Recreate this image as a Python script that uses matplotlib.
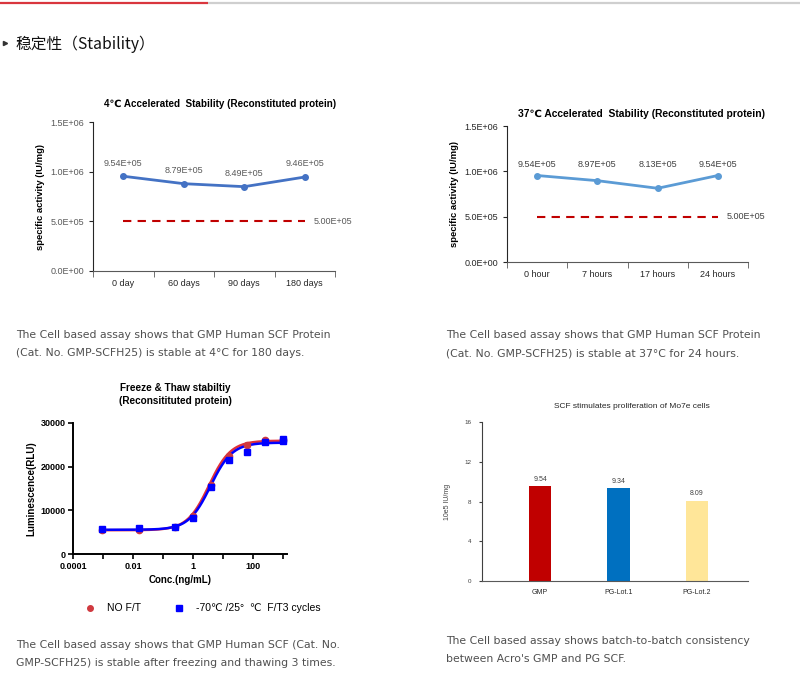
import numpy as np
import matplotlib
matplotlib.use('Agg')
import matplotlib.pyplot as plt
from matplotlib.ticker import FixedLocator, FuncFormatter, NullFormatter

plt.rcParams['font.family'] = ['Liberation Sans', 'DejaVu Sans']

# --- data ---
days_labels = ['0 day', '60 days', '90 days', '180 days']
act_4c = [9.54e5, 8.79e5, 8.49e5, 9.46e5]

hours_labels = ['0 hour', '7 hours', '17 hours', '24 hours']
act_37c = [9.54e5, 8.97e5, 8.13e5, 9.54e5]

spec_limit = 5.0e5

conc = [0.000954, 0.0153, 0.244, 0.977, 3.91, 15.6, 62.5, 250, 1000]
rlu_no_ft = [5600, 5450, 6100, 8600, 15800, 22400, 24900, 26100, 26050]
conc_ft = [0.000954, 0.0153, 0.244, 0.977, 3.91, 15.6, 62.5, 250, 1000, 1000]
rlu_ft = [5700, 5900, 6080, 8200, 15400, 21500, 23400, 25700, 26400, 25900]
# 4PL fit parameters (bottom, top, EC50, hill)
fit_no_ft = (5450, 25950, 3.4, 1.2)
fit_ft = (5550, 25500, 3.8, 1.2)

lots = ['GMP', 'PG-Lot.1', 'PG-Lot.2']
lot_activity = [9.54, 9.34, 8.09]
lot_colors = ['#C00000', '#0070C0', '#FFE699']

W, H = 800, 685
fig = plt.figure(figsize=(W / 100, H / 100), dpi=100)

bg = fig.add_axes([0, 0, 1, 1])
bg.set_xlim(0, W)
bg.set_ylim(H, 0)
bg.axis('off')


def px_axes(l, t, r, b):
    return fig.add_axes([l / W, 1 - b / H, (r - l) / W, (b - t) / H])


# header
bg.plot([0, 208], [3, 3], color='#D9363E', lw=1.6, solid_capstyle='butt')
bg.plot([208, 800], [3, 3], color='#CFCFCF', lw=1.6, solid_capstyle='butt')
bg.plot([5], [43], marker='>', ms=3, color='#333333')
bg.text(15, 44, '稳定性（Stability）', fontsize=11.3, va='center', ha='left',
        family=['Noto Sans CJK SC', 'DejaVu Sans'], color='#111111')

cap_kw = dict(fontsize=7.85, color='#505050', family='DejaVu Sans', va='center', ha='left')
bg.text(16, 335, 'The Cell based assay shows that GMP Human SCF Protein', **cap_kw)
bg.text(16, 353, '(Cat. No. GMP-SCFH25) is stable at 4°C for 180 days.', **cap_kw)
bg.text(446, 335, 'The Cell based assay shows that GMP Human SCF Protein', **cap_kw)
bg.text(446, 353, '(Cat. No. GMP-SCFH25) is stable at 37°C for 24 hours.', **cap_kw)
bg.text(16, 645, 'The Cell based assay shows that GMP Human SCF (Cat. No.', **cap_kw)
bg.text(16, 663, 'GMP-SCFH25) is stable after freezing and thawing 3 times.', **cap_kw)
bg.text(446, 641, 'The Cell based assay shows batch-to-batch consistency', **cap_kw)
bg.text(446, 659, "between Acro's GMP and PG SCF.", **cap_kw)


def stability_panel(ax, labels, values, line_color, tick_color, label_y=None):
    x = np.arange(len(labels))
    ax.plot(x, values, color=line_color, lw=2, marker='o', ms=4)
    ax.plot([x[0], x[-1]], [spec_limit, spec_limit], color='#C00000', lw=1.5,
            dashes=(4, 3))
    for xi, v in zip(x, values):
        if label_y is None:
            ax.annotate('%.2E' % v, (xi, v), xytext=(0, 9.5), textcoords='offset points',
                        ha='center', va='center', fontsize=6.5, color='#595959')
        else:
            ax.text(xi, label_y, '%.2E' % v, ha='center', va='center',
                    fontsize=6.5, color='#404040')
    ax.text(x[-1] + 0.14, spec_limit, '%.2E' % spec_limit, ha='left', va='center',
            fontsize=6.5, color='#595959' if label_y is None else '#404040')
    ax.set_xlim(-0.5, len(labels) - 0.5)
    ax.set_ylim(0, 1.5e6)
    ax.set_yticks([0, 5e5, 1e6, 1.5e6])
    ax.yaxis.set_major_formatter(FuncFormatter(lambda v, p: '%.1E' % v))
    ax.set_xticks(x)
    ax.set_xticklabels(labels)
    ax.xaxis.set_minor_locator(FixedLocator(np.arange(-0.5, len(labels), 1)))
    ax.tick_params(axis='x', which='major', length=0, pad=6, labelsize=6.5, labelcolor='#262626')
    ax.tick_params(axis='x', which='minor', length=4, color='#595959')
    ax.tick_params(axis='y', length=3, labelsize=6.5, labelcolor=tick_color, color='#262626')
    for s in ['top', 'right']:
        ax.spines[s].set_visible(False)
    ax.spines['left'].set_color('#262626')
    ax.spines['bottom'].set_color('#595959')
    ax.set_ylabel('specific activity (IU/mg)', fontsize=6.8, fontweight='bold', labelpad=4)


# panel 1: 4C
ax1 = px_axes(93, 122, 335, 271)
stability_panel(ax1, days_labels, act_4c, '#4472C4', '#595959')
bg.text(220, 104, '4℃ Accelerated  Stability (Reconstituted protein)', fontsize=7.1,
        fontweight='bold', ha='center', va='center')

# panel 2: 37C
ax2 = px_axes(507, 126, 748, 262)
stability_panel(ax2, hours_labels, act_37c, '#5B9BD5', '#262626', label_y=1.08e6)
bg.text(641, 114, '37℃ Accelerated  Stability (Reconstituted protein)', fontsize=7.4,
        fontweight='bold', ha='center', va='center')

# panel 3: freeze / thaw
ax3 = px_axes(73, 423, 287, 554)
xs = np.logspace(np.log10(conc[0]), np.log10(conc[-1]), 300)
for (bot, top, ec50, hill), col in [(fit_no_ft, '#E0303A'), (fit_ft, '#0000FF')]:
    ax3.plot(xs, bot + (top - bot) / (1 + (ec50 / xs) ** hill), color=col, lw=1.8)
ax3.plot(conc, rlu_no_ft, 'o', color='#D0393F', ms=4.5, zorder=3)
ax3.plot(conc_ft, rlu_ft, 's', color='#0000FF', ms=4.5, zorder=4)
ax3.set_xscale('log')
ax3.set_xlim(1e-4, 10 ** 3.13)
ax3.set_ylim(0, 30000)
ax3.xaxis.set_major_locator(FixedLocator([10.0 ** k for k in range(-4, 4)]))
ax3.xaxis.set_major_formatter(FuncFormatter(
    lambda v, p: {1e-4: '0.0001', 1e-2: '0.01', 1: '1', 1e2: '100'}.get(round(v, 6), '')))
ax3.xaxis.set_minor_formatter(NullFormatter())
ax3.tick_params(axis='x', which='minor', length=0)
ax3.set_yticks([0, 10000, 20000, 30000])
ax3.tick_params(axis='both', which='major', length=3.5, width=1.2, labelsize=6.5, pad=2)
for lab in ax3.get_xticklabels() + ax3.get_yticklabels():
    lab.set_fontweight('bold')
for s in ['top', 'right']:
    ax3.spines[s].set_visible(False)
for s in ['left', 'bottom']:
    ax3.spines[s].set_linewidth(1.4)
ax3.set_xlabel('Conc.(ng/mL)', fontsize=7, fontweight='bold', labelpad=3)
ax3.set_ylabel('Luminescence(RLU)', fontsize=7, fontweight='bold', labelpad=3)
bg.text(175, 388, 'Freeze & Thaw stabiltiy', fontsize=7.2, fontweight='bold', ha='center', va='center')
bg.text(175, 401, '(Reconsitituted protein)', fontsize=7.2, fontweight='bold', ha='center', va='center')
bg.plot([90], [608], 'o', color='#D0393F', ms=4)
bg.text(107, 608, 'NO F/T', fontsize=7.5, va='center')
bg.plot([179], [608], 's', color='#0000FF', ms=4)
bg.text(196, 608, '-70℃ /25°  ℃  F/T3 cycles', fontsize=7.5, va='center')

# panel 4: bars
ax4 = px_axes(482, 422, 748, 581)
xb = np.arange(len(lots))
ax4.bar(xb, lot_activity, width=0.29, color=lot_colors)
for xi, v in zip(xb, lot_activity):
    ax4.text(xi, v + 0.35, '%.2f' % v, ha='center', va='bottom', fontsize=5, color='#404040')
ax4.set_xlim(-0.74, 2.65)
ax4.set_ylim(0, 16)
ax4.set_yticks([0, 4, 8, 12, 16])
ax4.set_xticks(xb)
ax4.set_xticklabels(lots)
ax4.tick_params(axis='x', length=0, labelsize=5, pad=6, labelcolor='#262626')
ax4.tick_params(axis='y', length=2.5, labelsize=4.5, labelcolor='#404040', pad=5, color='#404040')
for s in ['top', 'right']:
    ax4.spines[s].set_visible(False)
ax4.spines['left'].set_color('#404040')
ax4.spines['bottom'].set_color('#595959')
ax4.set_ylabel('10e5 IU/mg', fontsize=5, color='#404040', labelpad=10)
bg.text(632, 406, 'SCF stimulates proliferation of Mo7e cells', fontsize=6, ha='center',
        va='center', color='#262626')

fig.savefig('out.png', dpi=100)
